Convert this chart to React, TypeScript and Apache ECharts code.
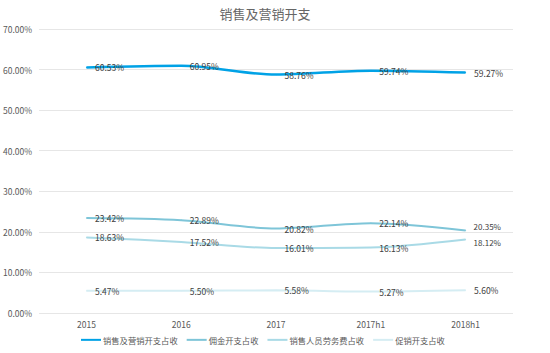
import React, { useEffect, useRef } from "react";
import * as echarts from "echarts";

const categories = ["2015", "2016", "2017", "2017h1", "2018h1"];
const seriesNames = ["销售及营销开支占收", "佣金开支占收", "销售人员劳务费占收", "促销开支占收"];
const salesMarketing = [60.53, 60.95, 58.76, 59.74, 59.27];
const commission = [23.42, 22.89, 20.82, 22.14, 20.35];
const staffCost = [18.63, 17.52, 16.01, 16.13, 18.12];
const promotion = [5.47, 5.5, 5.58, 5.27, 5.6];
const yTicks = { min: 0, max: 70, interval: 10 };

const colors = ["#00a2e6", "#7ec5d8", "#a9dae6", "#d5edf3"];
const widths = [2.5, 2, 2, 2];
// small vertical nudges for the two crowded last labels
const lastLabelNudge = [0, -3.5, 3.5, 0];
const FONT = "'Noto Sans CJK SC', 'Noto Sans', sans-serif";

export default function App() {
  const ref = useRef<HTMLDivElement>(null);
  useEffect(() => {
    document.body.style.margin = "0";
    const chart = echarts.init(ref.current!, null, { renderer: "svg" });
    const data = [salesMarketing, commission, staffCost, promotion];
    chart.setOption({
      animation: false,
      textStyle: { fontFamily: FONT },
      title: {
        text: "销售及营销开支",
        left: 260,
        textAlign: "center",
        top: 2,
        textStyle: { fontSize: 13, fontWeight: "normal", color: "#666666", fontFamily: FONT },
      },
      grid: { left: 33, right: 37, top: 29, bottom: 40 },
      legend: {
        bottom: 4,
        left: 76,
        icon: "rect",
        itemWidth: 20,
        itemHeight: 2,
        itemGap: 9,
        textStyle: { fontSize: 8.3, color: "#595959", padding: [0, 0, 0, -3] },
        data: seriesNames,
      },
      xAxis: {
        type: "category",
        data: categories,
        boundaryGap: true,
        axisLine: { show: false },
        axisTick: { show: false },
        axisLabel: { fontSize: 8.5, color: "#595959", margin: 7 },
      },
      yAxis: {
        type: "value",
        min: yTicks.min,
        max: yTicks.max,
        interval: yTicks.interval,
        axisLine: { show: false },
        axisTick: { show: false },
        splitLine: { lineStyle: { color: "#e6e6e6", width: 1 } },
        axisLabel: {
          fontSize: 8.5,
          color: "#595959",
          margin: 7,
          formatter: (v: number) => v.toFixed(2) + "%",
        },
      },
      series: seriesNames.map((name, i) => ({
        name,
        type: "line",
        data: data[i].map((v, j) =>
          j === data[i].length - 1 && lastLabelNudge[i] !== 0
            ? {
                value: v,
                label: {
                  show: true,
                  position: [8.5, 0.5 + lastLabelNudge[i]],
                  align: "left",
                  verticalAlign: "middle",
                  fontSize: 8,
                  lineHeight: 9,
                },
              }
            : v
        ),
        smooth: 0.3,
        showSymbol: true,
        symbol: "circle",
        symbolSize: 1,
        itemStyle: { color: colors[i] },
        color: colors[i],
        lineStyle: { color: colors[i], width: widths[i] },
        labelLayout: { hideOverlap: false },
        label: {
          show: true,
          position: "right",
          distance: 8,
          fontSize: 8.5,
          lineHeight: 10,
          color: "#404040",
          formatter: (p: any) => Number(p.value).toFixed(2) + "%",
        },
      })),
    });
    return () => chart.dispose();
  }, []);
  return <div ref={ref} style={{ width: 550, height: 353 }} />;
}
